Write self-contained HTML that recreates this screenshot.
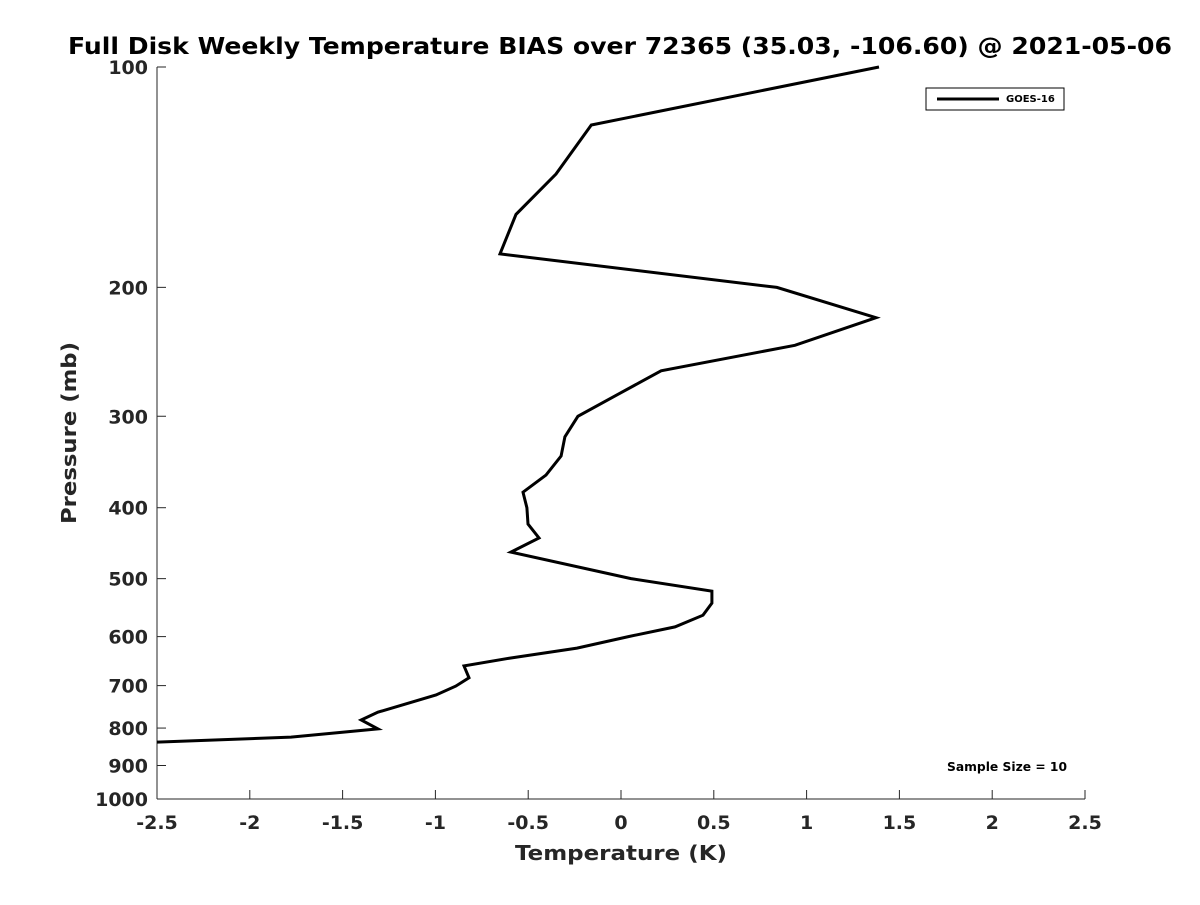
<!DOCTYPE html>
<html><head><meta charset="utf-8"><style>
body{margin:0;background:#fff;}
svg text{font-family:"DejaVu Sans","Liberation Sans",sans-serif;font-weight:bold;fill:#262626;}
</style></head><body>
<svg width="1200" height="900" id="c">
<text x="68" y="54" font-size="23" textLength="1104" lengthAdjust="spacingAndGlyphs" style="fill:#000">Full Disk Weekly Temperature BIAS over 72365 (35.03, -106.60) @ 2021-05-06</text>
<text x="621" y="860" text-anchor="middle" font-size="20" textLength="212" lengthAdjust="spacingAndGlyphs">Temperature (K)</text>
<text transform="translate(76,433) rotate(-90)" text-anchor="middle" font-size="20" textLength="182" lengthAdjust="spacingAndGlyphs">Pressure (mb)</text>
<g id="axes"></g>
<g>
<rect x="926" y="88" width="138" height="22" fill="#fff" stroke="#000" stroke-width="1"/>
<line x1="937" y1="99" x2="999" y2="99" stroke="#000" stroke-width="3"/>
<text x="1006" y="102" font-size="10" style="fill:#000">GOES-16</text>
</g>
<text x="1007" y="771" text-anchor="middle" font-size="12" textLength="120" lengthAdjust="spacingAndGlyphs" style="fill:#000">Sample Size = 10</text>
</svg>
<script>
const pressures=[100,120,140,159,180,200,220,240,260,280,300,320,340,361,381,400,421,440,460,500,520,540,561,582,600,622,642,658,683,701,721,761,780,802,823,836];
const bias=[1.39,-0.16,-0.35,-0.566,-0.652,0.84,1.374,0.937,0.216,-0.016,-0.232,-0.302,-0.323,-0.404,-0.528,-0.507,-0.501,-0.442,-0.593,0.054,0.49,0.49,0.442,0.291,0.04,-0.237,-0.598,-0.846,-0.819,-0.89,-0.997,-1.31,-1.40,-1.31,-1.778,-2.5];
const xTicks=[-2.5,-2,-1.5,-1,-0.5,0,0.5,1,1.5,2,2.5];
const yTicks=[100,200,300,400,500,600,700,800,900,1000];
const X=v=>157+(v+2.5)*185.6;
const Y=p=>67+(Math.log10(p)-2)*732;
const ns="http://www.w3.org/2000/svg";
const g=document.getElementById('axes');
function mk(t,a){const e=document.createElementNS(ns,t);for(const k in a)e.setAttribute(k,a[k]);g.appendChild(e);return e;}
let e=mk('line',{x1:157,y1:67,x2:157,y2:799,stroke:'#262626','stroke-width':1});


e=mk('line',{x1:157,y1:799,x2:1085,y2:799,stroke:'#262626','stroke-width':1});


xTicks.forEach(v=>{
 mk('line',{x1:X(v),y1:799,x2:X(v),y2:790,stroke:'#262626'});
 const t=mk('text',{x:X(v),y:829,'text-anchor':'middle','font-size':19});
 t.textContent=String(v);
 
 
});
yTicks.forEach(p=>{
 mk('line',{x1:157,y1:Y(p),x2:166,y2:Y(p),stroke:'#262626'});
 const t=mk('text',{x:148,y:Y(p)+7,'text-anchor':'end','font-size':19});
 t.textContent=String(p);
 
 
});
const d=pressures.map((p,i)=>(i?'L':'M')+X(bias[i]).toFixed(1)+','+Y(p).toFixed(1)).join(' ');
const line=mk('path',{d:d,fill:'none',stroke:'#000','stroke-width':3,'stroke-linejoin':'miter'});


</script>
</body></html>
